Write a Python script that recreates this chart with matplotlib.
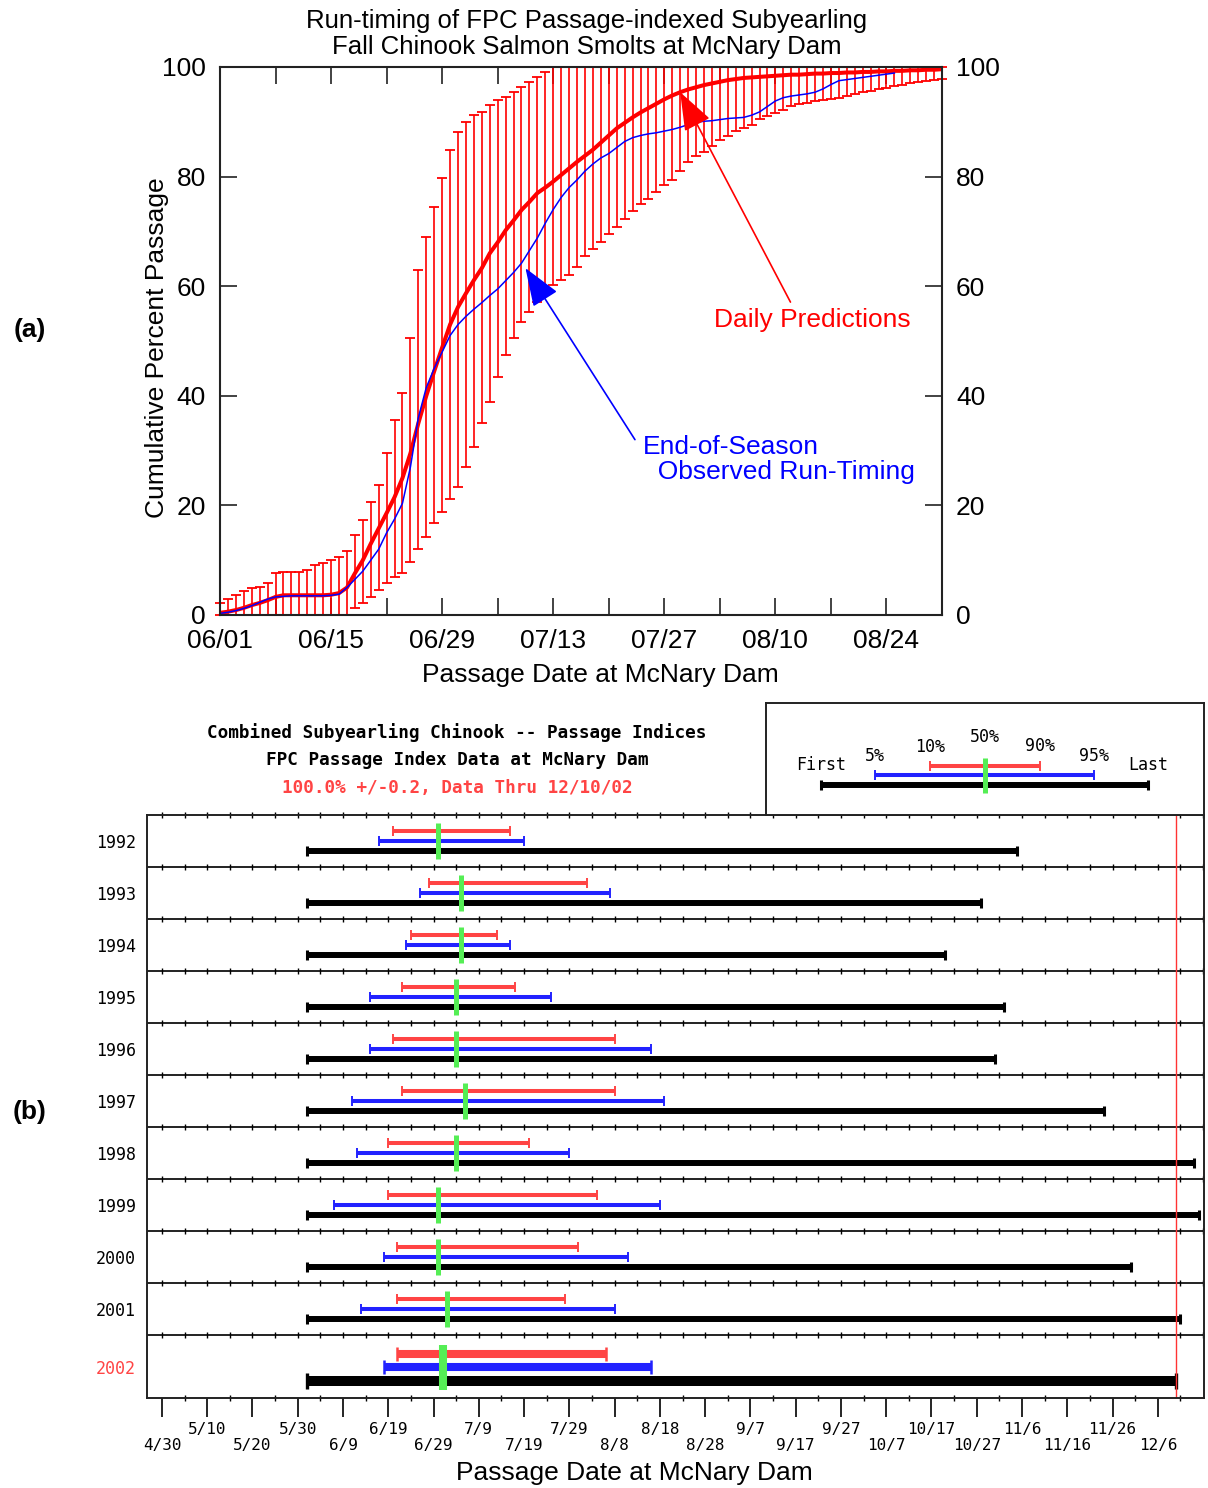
import datetime as dt

import matplotlib
matplotlib.use("Agg")
import matplotlib.pyplot as plt
import numpy as np

plt.rcParams["font.family"] = ["Liberation Sans", "DejaVu Sans"]
MONO = "DejaVu Sans Mono"

# ---------------- panel (a): daily predictions, one value per day from 06/01
pred_mean = [
    0.4, 0.6, 0.9, 1.3, 1.8, 2.2, 2.7, 3.3, 3.6, 3.6, 3.6, 3.6, 3.6, 3.6, 3.7, 4.0,
    5.0, 7.6, 10.0, 13.0, 15.8, 18.6, 21.5, 25.0, 29.5, 35.0, 40.0, 44.5, 48.8, 53.0,
    56.2, 58.7, 61.1, 63.3, 66.0, 68.0, 70.2, 72.0, 73.9, 75.4, 77.0, 78.0, 79.1, 80.3,
    81.5, 82.7, 83.8, 84.9, 86.2, 87.5, 88.8, 89.8, 90.8, 91.7, 92.5, 93.3, 94.1, 94.8,
    95.4, 95.9, 96.3, 96.7, 97.0, 97.3, 97.6, 97.8, 98.0, 98.1, 98.2, 98.3, 98.4, 98.5,
    98.6, 98.6, 98.7, 98.8, 98.8, 98.9, 98.9, 99.0, 99.0, 99.1, 99.1, 99.2, 99.2, 99.3,
    99.3, 99.4, 99.4, 99.5, 99.5, 99.6,
]
pred_low = [
    0, 0, 0, 0, 0, 0, 0, 0, 0, 0, 0, 0, 0, 0, 0, 0, 0,
    1.2, 2.1, 3.3, 4.5, 5.8, 6.9, 7.6, 9.7, 12.0, 14.3, 16.7, 18.8, 21.1, 23.4, 27.0,
    30.7, 35.0, 38.9, 43.5, 47.5, 50.5, 53.5, 55.3, 57.1, 58.7, 60.2, 61.2, 62.0, 63.5,
    65.5, 66.8, 68.0, 69.5, 70.8, 72.3, 73.8, 75.0, 76.0, 77.2, 78.4, 79.3, 81.0, 82.6,
    83.7, 84.5, 85.6, 86.6, 87.4, 88.4, 88.8, 89.5, 90.5, 91.0, 91.6, 92.2, 92.8, 93.2,
    93.5, 93.8, 94.0, 94.1, 94.4, 94.7, 95.1, 95.5, 95.7, 96.0, 96.2, 96.5, 96.8, 97.0,
    97.2, 97.5, 97.7, 97.9,
]
pred_high = [
    2.1, 3.0, 3.6, 4.3, 4.9, 5.2, 5.8, 7.7, 7.8, 7.8, 7.9, 8.2, 9.1, 9.5, 10.0, 10.6,
    11.7, 14.6, 17.3, 20.7, 23.7, 29.5, 35.6, 40.6, 50.5, 63.0, 69.0, 74.5, 79.7, 84.9,
    88.1, 90.0, 91.2, 91.8, 93.1, 94.0, 94.5, 95.4, 96.4, 97.3, 98.2, 99.1,
] + [100.0] * 50
obs_pct = [
    0.3, 0.5, 0.8, 1.2, 1.7, 2.3, 2.9, 3.3, 3.4, 3.5, 3.5, 3.5, 3.5, 3.5, 3.6, 3.8,
    5.0, 6.5, 8.0, 10.0, 12.0, 15.0, 17.5, 20.4, 27.0, 36.0, 41.5, 45.0, 48.0, 51.0,
    53.0, 54.5, 55.8, 57.0, 58.3, 59.5, 61.0, 62.5, 64.2, 66.5, 68.8, 71.5, 74.0, 76.2,
    78.0, 79.4, 81.0, 82.3, 83.4, 84.2, 85.3, 86.4, 87.1, 87.5, 87.8, 88.0, 88.3, 88.6,
    89.0, 89.5, 89.9, 90.1, 90.2, 90.4, 90.6, 90.7, 90.8, 91.2, 91.8, 92.8, 93.8, 94.4,
    94.7, 94.9, 95.1, 95.4, 96.0, 96.8, 97.5, 97.7, 97.9, 98.1, 98.3, 98.5, 98.7, 98.9,
]
a_ticks = ["06/01", "06/15", "06/29", "07/13", "07/27", "08/10", "08/24"]

# ---------------- panel (b): passage indices per year
years = ["1992", "1993", "1994", "1995", "1996", "1997", "1998", "1999", "2000", "2001", "2002"]
first = ["6/1"] * 11
p5 = ["6/17", "6/26", "6/23", "6/15", "6/15", "6/11", "6/12", "6/7", "6/18", "6/13", "6/18"]
p10 = ["6/20", "6/28", "6/24", "6/22", "6/20", "6/22", "6/19", "6/19", "6/21", "6/21", "6/21"]
p50 = ["6/30", "7/5", "7/5", "7/4", "7/4", "7/6", "7/4", "6/30", "6/30", "7/2", "7/1"]
p90 = ["7/16", "8/2", "7/13", "7/17", "8/8", "8/8", "7/20", "8/4", "7/31", "7/28", "8/6"]
p95 = ["7/19", "8/7", "7/16", "7/25", "8/16", "8/19", "7/29", "8/18", "8/11", "8/8", "8/16"]
last = ["11/5", "10/28", "10/20", "11/2", "10/31", "11/24", "12/14", "12/15", "11/30", "12/11", "12/10"]
b_ticks = ["4/30", "5/10", "5/20", "5/30", "6/9", "6/19", "6/29", "7/9", "7/19", "7/29",
           "8/8", "8/18", "8/28", "9/7", "9/17", "9/27", "10/7", "10/17", "10/27", "11/6",
           "11/16", "11/26", "12/6"]
data_thru = "12/10"

RED_B = "#ff4444"
BLUE_B = "#2222ff"
GREEN_B = "#55ee55"


def doff(md):
    m, d = md.split("/")
    return (dt.date(2001, int(m), int(d)) - dt.date(2001, 4, 30)).days


def span(ax, x0, x1, y, color, lw, ms, mew):
    ax.plot([x0, x1], [y, y], color=color, lw=lw, solid_capstyle="butt",
            marker="|", ms=ms, mew=mew)


W, H = 1208, 1488
fig = plt.figure(figsize=(W / 100, H / 100), dpi=100)

# ================= (a)
ax = fig.add_axes([220 / W, 1 - 615 / H, 722 / W, 548 / H])
days = np.arange(len(pred_mean))
mean = np.array(pred_mean)
lo = np.array(pred_low)
hi = np.array(pred_high)
ax.errorbar(days, mean, yerr=[mean - lo, hi - mean], fmt="none", ecolor="red",
            elinewidth=1.2, capsize=3.6, capthick=1.3, clip_on=False)
ax.plot(days, mean, color="red", lw=2.9)
ax.plot(np.arange(len(obs_pct)), obs_pct, color="blue", lw=1.1)

ax.set_xlim(0, 91)
ax.set_ylim(0, 100)
ax.set_xticks(np.arange(len(a_ticks)) * 14)
ax.set_xticklabels(a_ticks)
ax.set_xticks(np.arange(7, 91, 14), minor=True)
ax.set_yticks(np.arange(0, 101, 20))
ax.tick_params(which="both", direction="in", length=12, width=1.2, top=True, right=True,
               labelright=True, labelsize=19, pad=10, color="#222222")
for s in ax.spines.values():
    s.set_linewidth(1.5)
    s.set_color("#222222")

ax.annotate("", xy=(58, 95.4), xytext=(71.9, 57.1),
            arrowprops=dict(arrowstyle="-|>,head_length=1.2,head_width=0.45", color="red",
                            lw=1.2, mutation_scale=20, shrinkA=0, shrinkB=0))
ax.annotate("", xy=(38.5, 63.3), xytext=(52.3, 32.0),
            arrowprops=dict(arrowstyle="-|>,head_length=1.2,head_width=0.45", color="blue",
                            lw=1.2, mutation_scale=20, shrinkA=0, shrinkB=0))
ax.text(74.6, 53.8, "Daily Predictions", color="red", ha="center", va="center", fontsize=19)
ax.text(53.3, 28.3, "End-of-Season\n  Observed Run-Timing", color="blue", ha="left",
        va="center", fontsize=19, linespacing=1.05)

fig.text(587 / W, 1 - 34 / H,
         "Run-timing of FPC Passage-indexed Subyearling\nFall Chinook Salmon Smolts at McNary Dam",
         ha="center", va="center", fontsize=18.5, linespacing=1.15)
fig.text(157 / W, 1 - 348 / H, "Cumulative Percent Passage", rotation=90,
         ha="center", va="center", fontsize=19)
fig.text(600 / W, 1 - 675 / H, "Passage Date at McNary Dam", ha="center", va="center", fontsize=19)
fig.text(30 / W, 1 - 330 / H, "(a)", ha="center", va="center", fontsize=19, fontweight="bold")
fig.text(30 / W, 1 - 1112 / H, "(b)", ha="center", va="center", fontsize=19, fontweight="bold")

# ================= (b)
bx = fig.add_axes([147 / W, 1 - 1398 / H, 1057 / W, 583 / H])
bx.set_xlim(-3.3, 230.2)
bx.set_ylim(583, 0)

n = len(years)
tops = [52 * i for i in range(n)] + [583]
tick_days = np.arange(0, 231, 5)
for i in range(n):
    top = tops[i]
    big = i == n - 1
    if big:
        yr, yb, yk, g0, g1 = top + 19, top + 32, top + 46, top + 10, top + 55
        lw_c, ms_c, mew_c, lw_k, ms_k, mew_k, lw_g = 5.8, 10, 1.8, 7.2, 11, 2.4, 5.8
    else:
        yr, yb, yk, g0, g1 = top + 16, top + 26, top + 36, top + 8, top + 44
        lw_c, ms_c, mew_c, lw_k, ms_k, mew_k, lw_g = 2.9, 7, 1.4, 4.3, 7.5, 2.2, 3.6
    span(bx, doff(first[i]), doff(last[i]), yk, "black", lw_k, ms_k, mew_k)
    span(bx, doff(p5[i]), doff(p95[i]), yb, BLUE_B, lw_c, ms_c, mew_c)
    span(bx, doff(p10[i]), doff(p90[i]), yr, RED_B, lw_c, ms_c, mew_c)
    bx.vlines(doff(p50[i]), g0, g1, color=GREEN_B, lw=lw_g)
    if i > 0:
        bx.axhline(top, color="#222222", lw=1.4)
    bx.plot(tick_days, [top] * len(tick_days), ls="none", marker="|", ms=4.5, mew=1.0,
            color="black", clip_on=False)

bx.axvline(doff(data_thru), color="#ff3333", lw=1.0)

centers = [(tops[i] + tops[i + 1]) / 2 for i in range(n)]
bx.set_yticks(centers)
bx.set_yticklabels(years, fontfamily=MONO, fontsize=12)
bx.get_yticklabels()[-1].set_color(RED_B)
bx.tick_params(axis="y", length=0, pad=8)

bx.set_xticks([doff(t) for t in b_ticks])
bx.set_xticklabels([("\n" + t) if k % 2 == 0 else t for k, t in enumerate(b_ticks)],
                   fontfamily=MONO, fontsize=11.5, linespacing=1.15)
bx.set_xticks(np.arange(5, 231, 10), minor=True)
bx.tick_params(axis="x", which="major", direction="out", length=14, width=1.2, pad=3)
bx.tick_params(axis="x", which="minor", direction="inout", length=4.5, width=1.0)
for s in bx.spines.values():
    s.set_linewidth(1.4)
    s.set_color("#222222")

fig.text(457 / W, 1 - 733 / H, "Combined Subyearling Chinook -- Passage Indices",
         ha="center", va="center", fontfamily=MONO, fontsize=12.7, fontweight="bold")
fig.text(457 / W, 1 - 760 / H, "FPC Passage Index Data at McNary Dam",
         ha="center", va="center", fontfamily=MONO, fontsize=12.7, fontweight="bold")
fig.text(457 / W, 1 - 788 / H, "100.0% +/-0.2, Data Thru 12/10/02", color=RED_B,
         ha="center", va="center", fontfamily=MONO, fontsize=12.7, fontweight="bold")
fig.text(634 / W, 1 - 1473 / H, "Passage Date at McNary Dam", ha="center", va="center", fontsize=19)

# legend key box
lx = fig.add_axes([766 / W, 1 - 815 / H, 438 / W, 112 / H])
lx.set_xlim(766, 1204)
lx.set_ylim(815, 703)
lx.set_xticks([])
lx.set_yticks([])
for s in lx.spines.values():
    s.set_linewidth(1.4)
    s.set_color("#222222")
key_x = {"First": 821, "5%": 875, "10%": 930, "50%": 985, "90%": 1040, "95%": 1094, "Last": 1148}
key_y = {"First": 765, "5%": 756, "10%": 747, "50%": 737, "90%": 746, "95%": 756, "Last": 765}
span(lx, key_x["First"], key_x["Last"], 785, "black", 4.3, 7.5, 2.2)
span(lx, key_x["5%"], key_x["95%"], 775, BLUE_B, 2.9, 7, 1.4)
span(lx, key_x["10%"], key_x["90%"], 766, RED_B, 2.9, 7, 1.4)
lx.vlines(key_x["50%"], 758, 793, color=GREEN_B, lw=3.6)
for k in key_x:
    lx.text(key_x[k], key_y[k], k, ha="center", va="center", fontfamily=MONO, fontsize=12)

fig.savefig("out.png", dpi=100)
